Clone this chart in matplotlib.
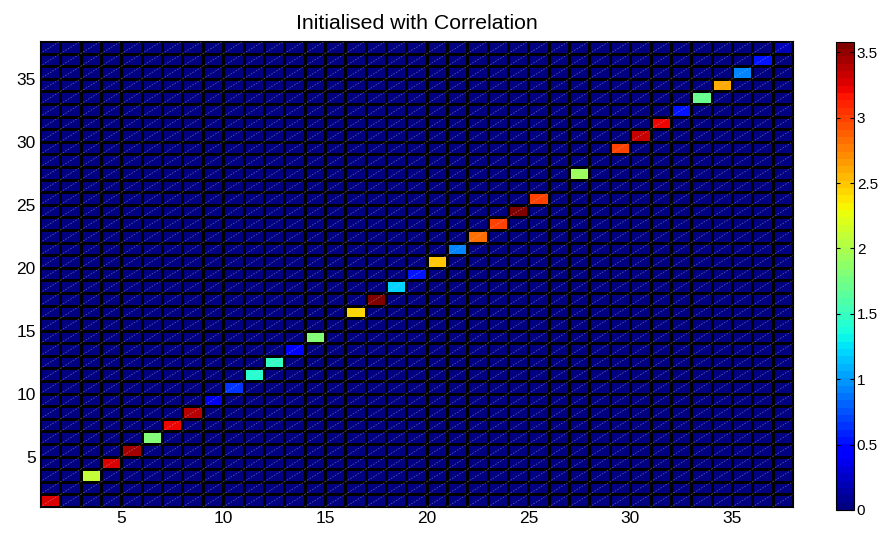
import numpy as np
import matplotlib
matplotlib.use("Agg")
import matplotlib.pyplot as plt
from matplotlib.collections import LineCollection

plt.rcParams['font.family'] = ['Liberation Sans', 'DejaVu Sans']

# values on the diagonal, cell i = (i, i)
diag_values = [3.30, 0.00, 2.12, 3.30, 3.45, 1.79, 3.20, 3.40, 0.35, 0.66,
               1.45, 1.47, 0.40, 1.79, 0.00, 2.42, 3.55, 1.22, 0.52, 2.50,
               0.90, 2.85, 2.99, 3.55, 2.97, 0.00, 1.94, 0.00, 3.02, 3.35,
               3.22, 0.52, 1.70, 2.59, 0.93, 0.55, 0.18]
x_ticks = [5, 10, 15, 20, 25, 30, 35]
y_ticks = [5, 10, 15, 20, 25, 30, 35]
cbar_ticks = [0, 0.5, 1, 1.5, 2, 2.5, 3, 3.5]
vmax = 3.58

n = len(diag_values)
C = np.diag(diag_values)
edges = np.arange(1, n + 2)

fig = plt.figure(figsize=(8.87, 5.40), dpi=100)
ax = fig.add_axes([0.0451, 0.0611, 0.8489, 0.8629])
cmap = plt.get_cmap('jet', 64)
mesh = ax.pcolormesh(edges, edges, C, cmap=cmap, vmin=0, vmax=vmax,
                     edgecolors='black', linewidth=0.8)

# faint triangle seams like the matlab renderer
segs = [[(i, j), (i + 1, j + 1)] for i in edges[:-1] for j in edges[:-1]]
lc = LineCollection(segs, colors=(0.8, 0.8, 1.0), alpha=0.4,
                    linewidths=0.6, linestyles=(0, (2, 1.5)))
ax.add_collection(lc)

ax.set_xlim(1, n + 1)
ax.set_ylim(1, n + 1)
ax.set_xticks(x_ticks)
ax.set_yticks(y_ticks)
ax.tick_params(direction='in', length=0, labelsize=12.5, pad=3)
ax.set_title("Initialised with Correlation", fontsize=15.3, pad=9)

cax = fig.add_axes([0.9425, 0.0556, 0.0203, 0.867])
cb = fig.colorbar(mesh, cax=cax, ticks=cbar_ticks)
cb.ax.set_yticklabels([f"{t:g}" for t in cbar_ticks])
cb.ax.tick_params(direction='in', length=3, labelsize=11, left=True, right=True, pad=2)
cb.outline.set_linewidth(0.8)

fig.savefig("out.png", dpi=100)
